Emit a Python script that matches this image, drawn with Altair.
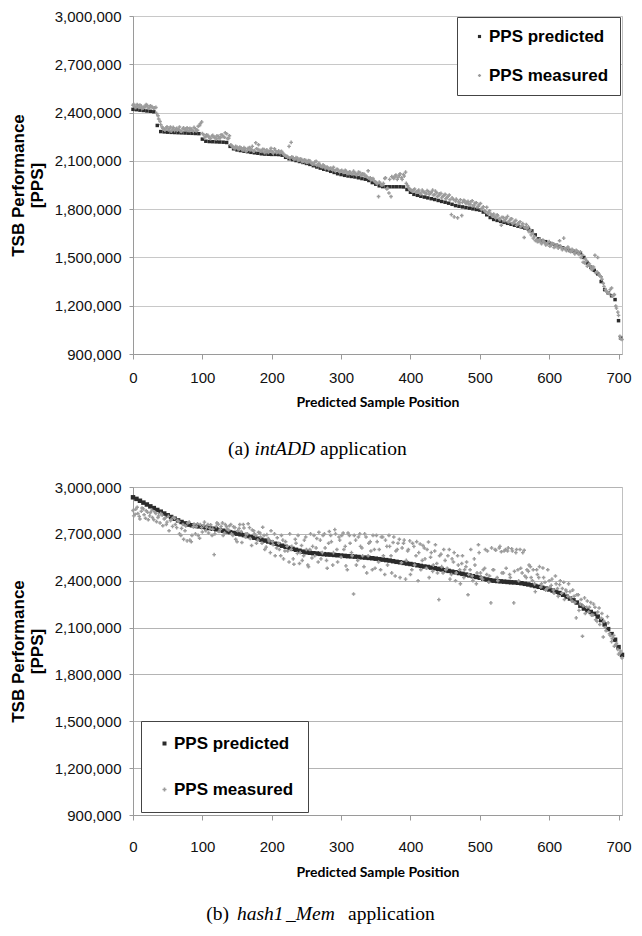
import altair as alt
import pandas as pd

# ---------------- Panel (a): intADD ----------------
# predicted PPS (thousands) at positions 0,5,...,700 and 703
pred_a_pos = list(range(0, 701, 5)) + [703]
pred_a = [
    2420, 2418, 2415, 2413, 2410, 2408, 2405, 2320, 2282, 2280,
    2278, 2277, 2276, 2275, 2274, 2273, 2272, 2271, 2270, 2269,
    2235, 2222, 2220, 2219, 2218, 2217, 2216, 2214, 2190, 2175,
    2168, 2164, 2160, 2157, 2153, 2150, 2147, 2144, 2142, 2141,
    2140, 2140, 2139, 2135, 2122, 2113, 2108, 2102, 2096, 2090,
    2084, 2078, 2070, 2062, 2055, 2048, 2043, 2035, 2028, 2020,
    2015, 2010, 2006, 2003, 2000, 1995, 1990, 1986, 1978, 1965,
    1955, 1945, 1940, 1939, 1939, 1939, 1939, 1939, 1938, 1922,
    1905, 1892, 1886, 1880, 1875, 1870, 1865, 1860, 1854, 1848,
    1843, 1837, 1830, 1822, 1818, 1814, 1810, 1806, 1802, 1798,
    1794, 1782, 1765, 1748, 1736, 1730, 1724, 1718, 1712, 1706,
    1700, 1694, 1688, 1682, 1677, 1665, 1640, 1616, 1603, 1598,
    1590, 1582, 1575, 1568, 1560, 1550, 1543, 1538, 1533, 1527,
    1500, 1465, 1440, 1420, 1398, 1350, 1300, 1280, 1262, 1238,
    1107, 1000,
]
# measured PPS (thousands), first set at positions 0,3,...,705
meas_a_pos = list(range(0, 706, 3))
meas_a = [
    2445, 2438, 2450, 2432, 2440, 2428, 2436, 2443, 2430, 2437,
    2425, 2432, 2380, 2345, 2310, 2298, 2305, 2292, 2310, 2298,
    2288, 2303, 2295, 2285, 2300, 2292, 2306, 2288, 2297, 2284,
    2299, 2290, 2320, 2342, 2262, 2250, 2258, 2240, 2255, 2245,
    2236, 2252, 2243, 2260, 2247, 2268, 2240, 2200, 2188, 2178,
    2185, 2172, 2180, 2168, 2176, 2165, 2183, 2170, 2160, 2212,
    2172, 2165, 2158, 2170, 2160, 2152, 2165, 2157, 2175, 2150,
    2162, 2155, 2148, 2135, 2128, 2190, 2215, 2120, 2112, 2118,
    2105, 2110, 2098, 2104, 2092, 2100, 2085, 2078, 2098, 2075,
    2070, 2062, 2068, 2058, 2050, 2055, 2045, 2040, 2048, 2035,
    2038, 2030, 2042, 2025, 2032, 2020, 2036, 2022, 2015, 2028,
    2010, 2018, 2005, 2038, 1995, 1985, 1975, 1965, 1878, 1960,
    1950, 1990, 1925, 1900, 1878, 1998, 2005, 1985, 2010, 1995,
    2015, 2030, 1945, 1925, 1915, 1920, 1905, 1912, 1900, 1918,
    1905, 1895, 1910, 1898, 1918, 1890, 1902, 1885, 1898, 1880,
    1892, 1872, 1888, 1766, 1860, 1850, 1746, 1840, 1760, 1855,
    1835, 1848, 1830, 1852, 1825, 1840, 1818, 1835, 1805, 1790,
    1812, 1780, 1770, 1758, 1752, 1765, 1740, 1700, 1748, 1735,
    1755, 1728, 1740, 1715, 1730, 1708, 1722, 1700, 1624, 1705,
    1690, 1670, 1650, 1630, 1612, 1600, 1595, 1608, 1590, 1580,
    1598, 1575, 1585, 1568, 1578, 1604, 1560, 1620, 1552, 1565,
    1540, 1550, 1530, 1545, 1525, 1535, 1515, 1466, 1480, 1455,
    1440, 1430, 1513, 1410, 1395, 1380, 1340, 1300, 1285, 1275,
    1310, 1265, 1198, 1160, 1010, 990,
]
# measured PPS (thousands), second set at positions 1,4,...,703
meas_a2_pos = list(range(1, 704, 3))
meas_a2 = [
    2452, 2430, 2441, 2447, 2425, 2438, 2450, 2428, 2442, 2433,
    2430, 2395, 2360, 2325, 2302, 2290, 2312, 2300, 2285, 2308,
    2296, 2290, 2310, 2282, 2305, 2298, 2289, 2302, 2291, 2308,
    2286, 2315, 2330, 2270, 2245, 2262, 2250, 2238, 2258, 2246,
    2255, 2240, 2262, 2250, 2275, 2238, 2256, 2195, 2182, 2190,
    2175, 2186, 2170, 2182, 2160, 2178, 2168, 2190, 2162, 2175,
    2200, 2160, 2172, 2150, 2168, 2158, 2178, 2148, 2165, 2155,
    2150, 2160, 2140, 2130, 2125, 2118, 2125, 2110, 2120, 2102,
    2112, 2095, 2106, 2090, 2102, 2088, 2080, 2092, 2072, 2085,
    2065, 2075, 2055, 2062, 2052, 2048, 2060, 2038, 2046, 2032,
    2042, 2028, 2035, 2020, 2030, 2018, 2025, 2012, 2030, 2010,
    2020, 2008, 2002, 1992, 1982, 1990, 1970, 1958, 1968, 1950,
    1960, 1995, 1930, 1985, 2002, 1990, 2012, 1998, 2020, 1985,
    2005, 1960, 1935, 1920, 1912, 1925, 1908, 1918, 1895, 1910,
    1900, 1915, 1892, 1905, 1888, 1912, 1878, 1895, 1870, 1885,
    1865, 1880, 1858, 1870, 1752, 1862, 1845, 1858, 1842, 1850,
    1842, 1832, 1845, 1820, 1838, 1812, 1828, 1800, 1815, 1785,
    1775, 1790, 1760, 1770, 1745, 1758, 1735, 1750, 1728, 1745,
    1720, 1738, 1710, 1725, 1700, 1715, 1690, 1710, 1685, 1680,
    1660, 1640, 1620, 1605, 1598, 1612, 1585, 1600, 1578, 1592,
    1570, 1588, 1562, 1575, 1558, 1570, 1548, 1560, 1542, 1555,
    1535, 1545, 1522, 1538, 1518, 1500, 1470, 1490, 1445, 1460,
    1425, 1440, 1405, 1500, 1385, 1365, 1320, 1290, 1280, 1300,
    1262, 1270, 1185, 1140, 995,
]

# ---------------- Panel (b): hash1_Mem ----------------
pred_b_pos = list(range(0, 706, 5))
pred_b = [
    2934, 2924, 2912, 2900, 2888, 2876, 2865, 2853, 2842, 2830,
    2819, 2808, 2797, 2786, 2776, 2767, 2759, 2755, 2751, 2748,
    2745, 2741, 2737, 2733, 2729, 2724, 2720, 2715, 2711, 2706,
    2701, 2697, 2692, 2686, 2680, 2675, 2669, 2663, 2657, 2651,
    2644, 2637, 2631, 2624, 2617, 2610, 2604, 2598, 2592, 2586,
    2582, 2579, 2576, 2574, 2572, 2570, 2568, 2567, 2565, 2563,
    2561, 2559, 2557, 2556, 2554, 2552, 2550, 2548, 2546, 2544,
    2541, 2538, 2535, 2532, 2529, 2525, 2521, 2518, 2514, 2510,
    2507, 2503, 2499, 2495, 2491, 2488, 2484, 2480, 2476, 2472,
    2467, 2463, 2458, 2454, 2449, 2444, 2439, 2434, 2429, 2424,
    2419, 2413, 2408, 2403, 2400, 2398, 2396, 2394, 2392, 2390,
    2389, 2387, 2384, 2380, 2376, 2371, 2366, 2361, 2355, 2350,
    2344, 2337, 2329, 2321, 2310, 2298, 2286, 2275, 2260, 2240,
    2222, 2210, 2200, 2188, 2170, 2148, 2120, 2090, 2058, 2022,
    1975, 1925,
]
# measured PPS (thousands), first set at positions 0,3,...,705
meas_b_pos = list(range(0, 706, 3))
meas_b = [
    2850, 2825, 2870, 2812, 2845, 2860, 2800, 2838, 2815, 2852,
    2790, 2830, 2805, 2770, 2820, 2795, 2760, 2812, 2785, 2748,
    2800, 2740, 2780, 2690, 2760, 2720, 2655, 2775, 2650, 2745,
    2700, 2765, 2672, 2740, 2755, 2720, 2760, 2735, 2690, 2567,
    2748, 2762, 2730, 2770, 2705, 2745, 2725, 2760, 2690, 2740,
    2650, 2735, 2715, 2760, 2680, 2700, 2740, 2625, 2720, 2690,
    2660, 2705, 2640, 2690, 2615, 2670, 2580, 2650, 2700, 2610,
    2640, 2560, 2660, 2590, 2620, 2520, 2600, 2540, 2665, 2575,
    2510, 2625, 2560, 2680, 2500, 2600, 2545, 2690, 2610, 2520,
    2660, 2580, 2700, 2530, 2640, 2690, 2500, 2727, 2600, 2680,
    2550, 2705, 2620, 2470, 2690, 2580, 2315, 2660, 2530, 2700,
    2610, 2490, 2680, 2560, 2650, 2470, 2600, 2690, 2520, 2470,
    2680, 2440, 2620, 2690, 2560, 2645, 2430, 2600, 2665, 2515,
    2640, 2410, 2590, 2655, 2470, 2620, 2560, 2400, 2635, 2530,
    2610, 2480, 2648, 2550, 2460, 2590, 2510, 2279, 2570, 2450,
    2530, 2480, 2600, 2440, 2520, 2400, 2560, 2470, 2510, 2420,
    2490, 2310, 2470, 2430, 2540, 2380, 2630, 2450, 2410, 2480,
    2440, 2390, 2258, 2470, 2600, 2420, 2610, 2585, 2450, 2600,
    2590, 2440, 2605, 2258, 2580, 2470, 2600, 2450, 2595, 2420,
    2460, 2490, 2400, 2380, 2470, 2420, 2360, 2481, 2390, 2350,
    2400, 2370, 2340, 2430, 2350, 2375, 2320, 2390, 2340, 2300,
    2330, 2270, 2300, 2162, 2310, 2250, 2044, 2290, 2230, 2200,
    2260, 2180, 2230, 2140, 2225, 2160, 2040, 2100, 2170, 2060,
    2010, 2050, 1990, 1960, 1935, 1905,
]
# measured PPS (thousands), second set at positions 1,4,...,703
meas_b2_pos = list(range(1, 704, 3))
meas_b2 = [
    2815, 2858, 2830, 2795, 2866, 2822, 2848, 2790, 2835, 2805,
    2842, 2778, 2815, 2830, 2752, 2800, 2775, 2720, 2790, 2805,
    2760, 2785, 2700, 2735, 2665, 2750, 2770, 2660, 2690, 2762,
    2745, 2690, 2760, 2712, 2775, 2742, 2705, 2758, 2730, 2700,
    2770, 2715, 2748, 2690, 2760, 2728, 2752, 2700, 2745, 2665,
    2720, 2760, 2645, 2738, 2700, 2765, 2670, 2725, 2700, 2640,
    2710, 2680, 2742, 2600, 2695, 2655, 2720, 2630, 2560, 2675,
    2600, 2690, 2540, 2650, 2590, 2700, 2620, 2505, 2640, 2690,
    2580, 2530, 2660, 2600, 2490, 2700, 2620, 2560, 2670, 2710,
    2540, 2690, 2610, 2480, 2715, 2650, 2580, 2700, 2520, 2660,
    2690, 2600, 2495, 2705, 2640, 2560, 2690, 2500, 2680, 2620,
    2560, 2700, 2450, 2640, 2590, 2690, 2480, 2650, 2600, 2680,
    2560, 2660, 2500, 2620, 2450, 2680, 2590, 2640, 2420, 2610,
    2660, 2530, 2600, 2440, 2640, 2500, 2650, 2580, 2470, 2625,
    2540, 2600, 2420, 2580, 2500, 2630, 2450, 2560, 2490, 2600,
    2470, 2560, 2410, 2540, 2580, 2450, 2500, 2380, 2560, 2470,
    2520, 2440, 2600, 2400, 2500, 2450, 2580, 2420, 2470, 2600,
    2590, 2430, 2610, 2470, 2595, 2400, 2620, 2450, 2590, 2480,
    2610, 2420, 2590, 2460, 2600, 2400, 2480, 2580, 2430, 2470,
    2500, 2420, 2470, 2330, 2440, 2490, 2380, 2420, 2340, 2470,
    2360, 2410, 2320, 2380, 2300, 2400, 2350, 2280, 2330, 2380,
    2290, 2340, 2260, 2310, 2210, 2280, 2240, 2190, 2270, 2230,
    2180, 2250, 2150, 2200, 2120, 2190, 2140, 2080, 2130, 2050,
    2030, 1980, 2000, 1930, 1950,
]

series_names = ["PPS predicted", "PPS measured"]
y_ticks = [900000, 1200000, 1500000, 1800000, 2100000, 2400000, 2700000, 3000000]
x_ticks = list(range(0, 701, 50))


def frame(pos, vals, name):
    if len(pos) != len(vals):
        raise ValueError(f"{name}: {len(pos)} positions vs {len(vals)} values")
    return pd.DataFrame({"pos": pos, "pps": [v * 1000 for v in vals], "series": name})


def panel(pred_pos, pred, meas_sets, w, h, grid_col, pred_size, meas_size, leg, caption_parts,
          cap_y, lab_pad, title_pad):
    x_enc = alt.X("pos:Q", scale=alt.Scale(domain=[0, 705], nice=False),
                  axis=alt.Axis(values=x_ticks, labelExpr="datum.value % 100 == 0 ? datum.label : ''",
                                grid=False, tickSize=5, labelPadding=lab_pad, labelFlush=False,
                                title="Predicted Sample Position", titleFont="Lato",
                                titleFontWeight="bold", titleFontSize=14, titlePadding=title_pad))
    y_enc = alt.Y("pps:Q", scale=alt.Scale(domain=[900000, 3000000], nice=False, zero=False),
                  axis=alt.Axis(values=y_ticks, format=",d", tickSize=4, labelPadding=8,
                                labelFlush=False, gridColor=grid_col,
                                title=["TSB Performance", "[PPS]"],
                                titleFont="Liberation Sans", titleFontSize=17,
                                titleFontWeight="bold", titleLineHeight=19, titlePadding=8))
    color = alt.Color("series:N", scale=alt.Scale(domain=series_names, range=["#2b2b2b", "#9c9c9c"]),
                      legend=leg)
    shape = alt.Shape("series:N", scale=alt.Scale(domain=series_names, range=["square", "cross"]),
                      legend=leg)
    layers = [alt.Chart(frame(pred_pos, pred, "PPS predicted")).mark_point(
        filled=True, opacity=1, size=pred_size).encode(x=x_enc, y=y_enc, color=color, shape=shape)]
    for mpos, mvals in meas_sets:
        layers.append(alt.Chart(frame(mpos, mvals, "PPS measured")).mark_point(
            filled=True, opacity=1, size=meas_size).encode(x="pos:Q", y="pps:Q", color=color, shape=shape))
    for text, xpos, align, style in caption_parts:
        layers.append(alt.Chart(pd.DataFrame({"t": [text]})).mark_text(
            font="Liberation Serif", fontSize=19.5, fontStyle=style, align=align,
            baseline="middle", color="black").encode(
            text="t:N", x=alt.value(xpos), y=alt.value(cap_y)))
    return alt.layer(*layers).properties(width=w, height=h)


leg_a = alt.Legend(orient="none", legendX=324, legendY=1, title=None, padding=11, rowPadding=21,
                   labelFont="Liberation Sans", labelFontSize=17, labelFontWeight="bold",
                   labelColor="black", symbolSize=10, strokeColor="#444", fillColor="white",
                   symbolOffset=3, labelOffset=1, symbolStrokeWidth=0)
leg_b = alt.Legend(orient="none", legendX=8, legendY=234, title=None, padding=14, rowPadding=28,
                   labelFont="Liberation Sans", labelFontSize=17, labelFontWeight="bold",
                   labelColor="black", symbolSize=16, strokeColor="#444", fillColor="white",
                   symbolOffset=1, labelOffset=1, symbolStrokeWidth=0)

cap_a = [("(a)", 116.6, "right", "normal"), ("intADD", 121.5, "left", "italic"),
         ("application", 187, "left", "normal")]
cap_b = [("(b)", 96, "right", "normal"), ("hash1", 104, "left", "italic"),
         ("_Mem", 153, "left", "italic"), ("application", 215, "left", "normal")]

pa = panel(pred_a_pos, pred_a, [(meas_a_pos, meas_a), (meas_a2_pos, meas_a2)], 489, 338,
           "#c8c8c8", 12, 13, leg_a, cap_a, 433, 11, 10)
pb = panel(pred_b_pos, pred_b, [(meas_b_pos, meas_b), (meas_b2_pos, meas_b2)], 489, 328,
           "#b4b4b4", 20, 13, leg_b, cap_b, 427, 19, 11)

chart = alt.vconcat(pa, pb, spacing=20).resolve_scale(
    color="independent", shape="independent").resolve_legend(
    color="independent", shape="independent").properties(
    padding={"left": 0, "top": 0, "right": 0, "bottom": 0}
).configure_view(stroke="#c0c0c0").configure_axis(
    domainColor="#9a9a9a", tickColor="#9a9a9a", labelFont="Liberation Sans", labelFontSize=15,
    labelColor="#111", titleColor="black"
)

chart.save("out.html", embed_options={"renderer": "svg", "actions": False})
